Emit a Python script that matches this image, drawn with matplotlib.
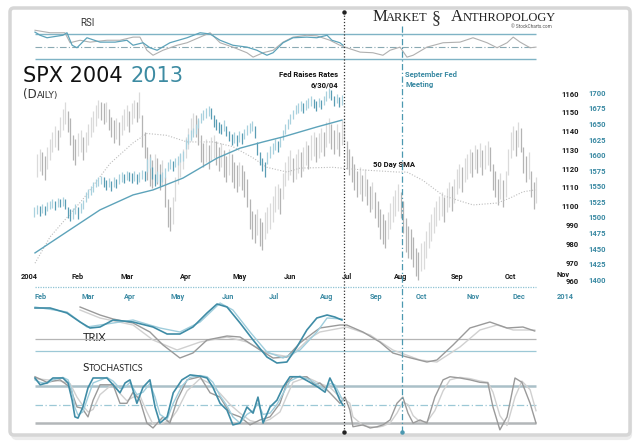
import numpy as np
import matplotlib
matplotlib.use("Agg")
import matplotlib.pyplot as plt
from matplotlib.patches import FancyBboxPatch

# ---- data ----
# SPX 2004 daily high / low, trading days 4..199
hi04 = [1128,1131,1129,1127,1132,1136,1140,1143,1141,1148,1152,1156,1151,1147,1138,1136,
        1139,1141,1137,1140,1144,1148,1151,1154,1157,1156,1155,1156,1152,1148,1146,1147,
        1145,1149,1152,1154,1151,1155,1157,1156,1161,1149,1140,1132,1128,1125,1128,1126,
        1123,1125,1116,1104,1100,1105,1116,1124,1128,1131,1137,1142,1147,1150,1149,1146,
        1138,1134,1136,1133,1137,1138,1135,1132,1134,1130,1127,1131,1128,1124,1122,1124,
        1122,1119,1115,1104,1098,1096,1099,1094,1092,1097,1100,1102,1106,1111,1112,1110,
        1118,1124,1127,1130,1126,1128,1131,1129,1132,1135,1133,1138,1140,1137,1139,1142,
        1140,1145,1147,1144,1141,1144,1140,1146,1147,1135,1131,1127,1123,1119,1121,1117,
        1120,1115,1111,1113,1108,1103,1099,1096,1093,1097,1102,1106,1109,1112,1108,1103,
        1094,1090,1088,1084,1078,1076,1081,1082,1087,1092,1096,1100,1103,1106,1108,1105,
        1110,1113,1111,1115,1120,1123,1121,1126,1128,1131,1129,1133,1131,1134,1130,1133,
        1135,1132,1123,1119,1115,1118,1114,1119,1131,1140,1143,1141,1145,1142,1132,1127,
        1129,1119,1113,1116]
lo04 = [1116,1119,1117,1114,1120,1125,1129,1132,1130,1137,1141,1144,1140,1133,1125,1122,
        1127,1129,1125,1129,1133,1137,1140,1143,1147,1146,1144,1145,1141,1137,1134,1136,
        1133,1138,1141,1143,1140,1144,1147,1145,1147,1132,1126,1114,1111,1110,1114,1112,
        1109,1111,1100,1089,1087,1091,1103,1112,1116,1120,1126,1131,1135,1139,1137,1133,
        1124,1121,1124,1120,1125,1126,1122,1119,1121,1116,1113,1117,1113,1110,1108,1111,
        1109,1105,1100,1088,1083,1081,1085,1079,1077,1083,1086,1088,1092,1097,1099,1096,
        1104,1111,1114,1117,1113,1115,1118,1116,1119,1122,1120,1125,1127,1124,1126,1129,
        1127,1132,1134,1131,1128,1131,1127,1133,1134,1120,1117,1113,1109,1105,1107,1103,
        1106,1101,1097,1099,1094,1089,1083,1080,1078,1083,1088,1092,1095,1098,1094,1086,
        1076,1073,1072,1068,1063,1061,1066,1067,1073,1078,1082,1086,1090,1093,1095,1092,
        1097,1100,1098,1102,1107,1110,1108,1113,1115,1118,1116,1120,1118,1121,1117,1120,
        1122,1119,1109,1105,1101,1104,1100,1105,1117,1126,1130,1127,1132,1129,1118,1113,
        1115,1105,1099,1102]

# SPX 2013 daily high / low, aligned days 3..123
hi13 = [1518,1521,1519,1523,1520,1525,1528,1530,1527,1532,1531,1534,1530,
        1518,1514,1516,1522,1517,1524,1529,1541,1547,1552,1557,1563,1566,1568,1565,1561,
        1564,1560,1565,1563,1570,1573,1571,1576,1574,1572,1575,1570,1573,1577,1575,1595,
        1598,1582,1571,1575,1570,1574,1580,1590,1594,1591,1597,1600,1604,1607,1626,1635,
        1641,1645,1650,1660,1668,1673,1677,1680,1676,1665,1659,1654,1651,1657,1648,1640,
        1634,1638,1633,1639,1636,1642,1649,1653,1656,1647,1622,1606,1597,1590,1606,1615,
        1621,1626,1623,1630,1641,1650,1659,1666,1674,1682,1685,1688,1684,1689,1692,1695,
        1691,1688,1693,1690,1696,1704,1709,1705,1696,1699,1694,1697]
lo13 = [1502,1506,1503,1508,1504,1511,1514,1516,1513,1518,1517,1520,1514,
        1500,1495,1499,1506,1498,1508,1514,1526,1532,1537,1542,1549,1552,1554,1550,1545,
        1549,1544,1550,1548,1555,1558,1556,1561,1559,1556,1560,1554,1558,1562,1559,1574,
        1580,1562,1552,1558,1552,1557,1564,1575,1579,1576,1582,1585,1589,1592,1610,1619,
        1625,1630,1634,1644,1652,1657,1661,1664,1659,1646,1641,1637,1634,1640,1631,1623,
        1617,1621,1616,1622,1619,1626,1633,1637,1640,1628,1601,1585,1575,1566,1586,1597,
        1603,1609,1606,1614,1625,1634,1643,1650,1658,1666,1669,1672,1668,1674,1677,1680,
        1676,1672,1678,1675,1681,1688,1693,1689,1680,1684,1678,1682]

# 50 day SMA 2004 (dotted) and 2013 average (blue)
sma04_x = [3.2, 9.1, 21.9, 32.5, 41.5, 46.9, 54.7, 62.6, 72.7, 80.5, 88.4, 93.8, 101.6, 106.7,
           119.6, 131.3, 144.6, 148.5, 154.8, 162.6, 170.4, 174.3, 183.7, 188.8, 193.9, 198.6]
sma04_y = [1070, 1084, 1104, 1123, 1134, 1139, 1138, 1134.5, 1134.5, 1132, 1126, 1121, 1118.5, 1120.6,
           1121, 1119.6, 1118.5, 1118.5, 1114, 1106, 1102.6, 1101, 1102, 1104.7, 1108, 1109]
sma13_x = [3.2, 15.7, 28.6, 41.5, 49.3, 61.0, 74.3, 83.3, 92.3, 100.0, 113.3, 123.1]
sma13_y = [1444, 1478, 1513, 1537, 1545, 1564, 1596, 1612, 1622, 1630, 1646, 1657]

# RSI
rsi13_x = [3.2, 5.2, 7.9, 14.1, 15.7, 17.7, 19.6, 23.5, 28.6, 34.5, 39.1, 41.5, 45.4, 48.1, 50.9, 55.9,
           62.6, 67.7, 71.6, 75.5, 80.5, 86, 89.9, 93.8, 96.2, 100.1, 104, 109.4, 113.3, 117.3, 119.2,
           122.3, 123.5]
rsi13_y = [73, 68, 64, 68, 72, 52, 48, 64, 57, 57, 60, 52, 56, 48, 44, 56,
           64, 72, 70, 60, 52, 49, 44, 36, 40, 56, 64, 65, 64, 68, 60, 56, 52]
rsi04_x = [3.2, 9.1, 14.9, 16.9, 20.8, 24.7, 31.3, 36.4, 41.5, 44.2, 46.9, 49.3, 53.2, 58.7, 62.6, 67.7,
           71.6, 75.5, 80.5, 86, 88.4, 92.3, 96.2, 100.1, 104, 109.4, 113.3, 118.4, 122.3, 125, 130.2,
           135.2, 139.1, 141.9, 145.8, 148.5, 150.9, 156.3, 162.6, 169.2, 174.3, 179.8, 183.7, 187.6,
           190, 192.7, 196.6, 198.9]
rsi04_y = [76, 72, 72, 56, 60, 57, 60, 60, 65, 65, 44, 36, 44, 52, 56, 65,
           72, 56, 49, 40, 33, 40, 44, 57, 65, 68, 67, 60, 52, 48, 41,
           40, 36, 44, 49, 33, 36, 49, 56, 57, 64, 56, 48, 56,
           65, 57, 48, 49]

# TRIX
trix13_x = [3.2, 9.1, 15.7, 20.8, 24.7, 28.6, 33.7, 41.5, 49.3, 54.8, 59.8, 64.9, 70.4, 74.3, 78.2,
            83.3, 88.4, 93.8, 97.7, 101.6, 105.5, 109.4, 113.3, 117.3, 120.3, 123.1]
trix13_y = [31, 31, 26, 17, 11, 12, 19, 17, 12, 5, 5, 12, 26, 35, 32,
            16, -1, -18, -24, -23, -8, 9, 21, 24, 22, 19]
trix13s_x = [3.2, 15.7, 23.5, 28.6, 41.5, 52, 59.8, 67.7, 75.5, 80.5, 87.2, 93.8, 100.1, 106.7,
             113.3, 117.3, 123.1]
trix13s_y = [32, 27, 12, 14, 19, 11, 7, 17, 36, 29, 7, -13, -19, -11, 7, 21, 20]
trix04_x = [20.8, 28.6, 33.7, 41.5, 48.1, 53.2, 59.8, 64.9, 70.4, 78.2, 83.3, 91.1, 96.2, 101.6,
            106.7, 111.8, 114.5, 122.3, 125, 131.3, 137.9, 143, 148.5, 156.3, 160.2, 166.5, 173.1,
            180.9, 187.6, 193.8, 198.4]
trix04_y = [32, 24, 20, 16, 7, -6, -19, -14, -1, 3, 2, -11, -19, -18,
            -4, 6, 11, 14, 14, 7, -3, -14, -18, -23, -21, -6, 11,
            17, 11, 12, 8]
trix04s_x = [20.8, 28.6, 41.5, 49.3, 58.7, 67.7, 78.2, 86, 93.8, 102.8, 110.6, 114.5, 125, 134.1,
             143, 153.6, 160.2, 169.2, 177, 183.7, 190, 198.4]
trix04s_y = [29, 21, 14, -1, -11, -3, 2, -3, -14, -18, 1, 7, 12, 4,
             -11, -21, -23, -8, 9, 14, 9, 9]

# Stochastics
sto13_x = [3.2, 5.2, 7.9, 10.2, 14.1, 16.1, 17.7, 18.8, 20, 21.9, 23.9, 25.9, 31.3, 33.7, 36.4, 38.4,
           40.3, 43, 45.4, 48.1, 50.1, 52, 54.8, 57.2, 60.6, 63.8, 67.7, 70.4, 72.7, 75.5, 78.2,
           80.5, 83.3, 86, 88.4, 90.3, 92.3, 95, 97.7, 100.1, 102.8, 106.7, 110.6, 113.8, 116.5,
           118.4, 120.3, 122.3, 123.5]
sto13_k = [93, 82, 85, 93, 93, 85, 57, 30, 28, 46, 77, 93, 93, 82, 69, 85,
           90, 52, 78, 90, 46, 20, 30, 69, 90, 98, 96, 93, 78, 52, 41,
           17, 20, 46, 36, 62, 20, 46, 57, 78, 95, 95, 86, 78, 70,
           93, 77, 57, 49]
sto13_d = [90, 86, 84, 90, 94, 90, 72, 45, 33, 38, 62, 85, 94, 88, 76, 78,
           86, 66, 70, 84, 62, 34, 26, 52, 80, 94, 97, 95, 86, 64, 48,
           30, 20, 34, 40, 52, 34, 36, 50, 68, 88, 96, 90, 82, 74,
           84, 82, 66, 56]
sto04_x = [3.2, 7.9, 13, 16.9, 19.6, 21.6, 23.9, 25.9, 28.6, 33.7, 36.4, 39.1, 41.5, 44.2, 46.9,
           49.3, 53.2, 55.9, 58.7, 62.6, 67.7, 71.6, 75.5, 79.4, 83.3, 87.2, 91.1, 95, 98.9,
           101.6, 104, 109.4, 112.6, 114.5, 118.4, 122.3, 124.3, 126.2, 127.4, 131.3, 134.1,
           136.8, 139.1, 141.9, 144.6, 146.9, 148.9, 150.9, 153.6, 156.3, 159.4, 162.6, 165.3,
           169.2, 173.1, 177, 180.1, 182.1, 184.8, 187.6, 190.7, 193.4, 196.6, 198.9]
sto04_k = [95, 86, 90, 78, 46, 44, 30, 57, 82, 82, 52, 52, 70, 57, 20,
           12, 30, 20, 57, 90, 95, 69, 62, 36, 30, 17, 25, 30, 52,
           85, 95, 95, 82, 85, 69, 52, 62, 41, 14, 17, 12,
           14, 17, 25, 52, 62, 36, 20, 25, 20, 62, 90, 95,
           93, 90, 86, 85, 46, 9, 30, 93, 86, 52, 20]
sto04_d = [92, 90, 88, 84, 62, 50, 38, 42, 66, 84, 68, 56, 62, 64, 38,
           18, 20, 24, 40, 72, 92, 84, 68, 50, 36, 24, 20, 26, 38,
           64, 86, 94, 88, 84, 78, 62, 58, 52, 30, 16, 14,
           13, 15, 20, 36, 54, 50, 32, 22, 22, 40, 72, 90,
           94, 92, 88, 86, 70, 32, 16, 62, 88, 74, 40]

# axis labels
months04 = ["2004", "Feb", "Mar", "Apr", "May", "Jun", "Jul", "Aug", "Sep", "Oct"]
months04_day = [0.9, 20, 39, 62, 83, 103, 125, 146, 168, 189]
months13 = ["Feb", "Mar", "Apr", "May", "Jun", "Jul", "Aug", "Sep", "Oct", "Nov", "Dec", "2014"]
months13_day = [5.5, 23.9, 40.3, 59, 78.6, 96.6, 117.3, 136.4, 154, 174.3, 192.3, 210.2]
levels04 = [1160, 1150, 1140, 1130, 1120, 1110, 1100, 1090, 1080, 1070, 1060]
labels04 = ["1160", "1150", "1140", "1130", "1120", "1110", "1100", "990", "980", "970", "960"]
levels13 = [1700, 1675, 1650, 1625, 1600, 1575, 1550, 1525, 1500, 1475, 1450, 1425, 1400]
fed_day = 124        # 6/30/04
sept_fed_day = 146.6

# ---- layout ----
W, H = 640, 443
X0, DX = 26.8, 2.56
XL = (-X0 / DX, (W - X0) / DX)
X_END = 198.9
TEAL = "#3b8aa3"

plt.rcParams["font.family"] = ["Roboto", "DejaVu Sans"]
fig = plt.figure(figsize=(W / 100, H / 100), dpi=100)
fig.patch.set_facecolor("white")


def panel(top, bottom, ylim):
    ax = fig.add_axes([0, 1 - bottom / H, 1, (bottom - top) / H])
    ax.set_xlim(XL)
    ax.set_ylim(ylim)
    ax.axis("off")
    ax.patch.set_alpha(0)
    return ax


deco = fig.add_axes([0, 0, 1, 1])
deco.set_xlim(0, W)
deco.set_ylim(H, 0)
deco.axis("off")
deco.add_patch(FancyBboxPatch((13, 11), 617, 427, boxstyle="round,pad=0,rounding_size=4",
                              fc="none", ec="#ececec", lw=3, zorder=0))
deco.add_patch(FancyBboxPatch((10, 8), 620, 427, boxstyle="round,pad=0,rounding_size=4",
                              fc="white", ec="#d6d6d6", lw=2.5))

# ---- main price panel ----
ax04 = panel(85, 290, (1055.74, 1164.79))
ax13 = panel(85, 290, (1384.5, 1713.3))

x04 = np.arange(4, 4 + len(hi04))
h04, l04 = np.array(hi04), np.array(lo04)
m04 = (h04 + l04) / 2
up04 = np.r_[True, m04[1:] >= m04[:-1]]
ax04.vlines(x04[up04], l04[up04], h04[up04], color="#dadada", lw=0.9)
ax04.vlines(x04[~up04], l04[~up04], h04[~up04], color="#b4b4b4", lw=0.9)
ax04.plot(sma04_x, sma04_y, color="#bdbdbd", lw=0.8, ls=(0, (1, 1.5)))

x13 = np.arange(3, 3 + len(hi13))
h13, l13 = np.array(hi13), np.array(lo13)
m13 = (h13 + l13) / 2
up13 = np.r_[True, m13[1:] >= m13[:-1]]
ax13.vlines(x13[up13], l13[up13], h13[up13], color="#a9d1de", lw=0.9)
ax13.vlines(x13[~up13], l13[~up13], h13[~up13], color="#5a9db4", lw=0.9)
ax13.plot(sma13_x, sma13_y, color="#5da3ba", lw=1)

for v, s in zip(levels04, labels04):
    ax04.text(215.7, v, s, ha="right", va="center", fontsize=5.5, fontweight="bold", color="#1a1a1a")
for v in levels13:
    ax13.text(226.3, v, str(v), ha="right", va="center", fontsize=5.5, fontweight="bold", color=TEAL)
for d, s in zip(months04_day, months04):
    ax04.text(d, 1062.7, s, ha="center", va="center", fontsize=5.3, fontweight="bold", color="#1a1a1a")
ax04.text(209.3, 1063.5, "Nov", ha="center", va="center", fontsize=5.3, fontweight="bold", color="#1a1a1a")

# ---- RSI panel ----
axr = panel(18, 66, (18.8, 95.6))
axr.hlines([70, 30], 3.2, X_END, color="#7fb3c5", lw=1)
axr.hlines(50, 3.2, X_END, color="#8aa9b3", lw=0.8, ls=(0, (6, 2, 1, 2)))
axr.plot(rsi04_x, rsi04_y, color="#b0b0b0", lw=0.8)
axr.plot(rsi13_x, rsi13_y, color="#5da3ba", lw=0.9)

# ---- TRIX panel ----
axt = panel(292, 372, (-33, 47))
axt.hlines(0, 3.2, X_END, color="#b5b5b5", lw=0.9)
axt.hlines(-12, 3.2, X_END, color="#9cc8d6", lw=0.9)
axt.plot(trix04s_x, trix04s_y, color="#d0d0d0", lw=1)
axt.plot(trix04_x, trix04_y, color="#9a9a9a", lw=1)
axt.plot(trix13s_x, trix13s_y, color="#9fcddc", lw=1)
axt.plot(trix13_x, trix13_y, color="#3f8ca6", lw=1.2)
for d, s in zip(months13_day, months13):
    axt.text(d, 42, s, ha="center", va="center", fontsize=5.3, fontweight="bold", color=TEAL)

# ---- stochastics panel ----
axs = panel(372, 436, (-1, 102.7))
axs.hlines(80, 3.2, X_END, color="#aac0c8", lw=1.8)
axs.hlines(20, 3.2, X_END, color="#b3b7b9", lw=1.8)
axs.hlines(50, 3.2, X_END, color="#9cc8d6", lw=0.9, ls=(0, (6, 2, 1, 2)))
axs.plot(sto04_x, sto04_d, color="#d0d0d0", lw=1)
axs.plot(sto04_x, sto04_k, color="#9a9a9a", lw=1)
axs.plot(sto13_x, sto13_d, color="#9fcddc", lw=1)
axs.plot(sto13_x, sto13_k, color="#3f8ca6", lw=1.2)

# ---- event lines ----
axv = panel(0, H, (H, 0))
axv.plot([fed_day, fed_day], [12, 432], color="#333333", lw=0.9, ls=(0, (1, 1.5)))
axv.plot([fed_day, fed_day], [12, 432], "o", color="#222222", ms=2.2)
axv.plot([sept_fed_day, sept_fed_day], [26, 432], color="#4b98b0", lw=0.9, ls=(0, (5, 2, 1, 2)))
axv.plot([sept_fed_day], [432], "o", color="#4b98b0", ms=2.2)
axv.hlines(287, 3.2, X_END, color="#8fc3d4", lw=0.9, ls=(0, (1, 1)))

# ---- texts ----
deco.text(80, 26, "RSI", fontsize=7, color="#333333")
deco.text(23, 82, "SPX 2004", fontsize=15, family=["DejaVu Sans"], color="#111111")
deco.text(131, 82, "2013", fontsize=15, family=["DejaVu Sans"], color="#3d8ba2")
deco.text(23, 98, "(D", fontsize=8.5, family=["DejaVu Sans"], color="#333333")
deco.text(36.5, 98, "AILY)", fontsize=6.5, family=["DejaVu Sans"], color="#333333")
deco.text(373, 21, "M", fontsize=12, family=["Liberation Serif"], color="#222222")
deco.text(386, 21, "ARKET", fontsize=9, family=["Liberation Serif"], color="#222222")
deco.text(432, 23, "\u00a7", fontsize=13, family=["Liberation Serif"], color="#333333")
deco.text(451, 21, "A", fontsize=12, family=["Liberation Serif"], color="#222222")
deco.text(463, 21, "NTHROPOLOGY", fontsize=9, family=["Liberation Serif"], color="#222222")
deco.text(552, 28, "\u00a9 StockCharts.com", fontsize=3.3, ha="right", color="#555555")
deco.text(338, 77, "Fed Raises Rates", fontsize=5.5, fontweight="bold", ha="right", color="#111111")
deco.text(338, 87, "6/30/04", fontsize=5.5, fontweight="bold", ha="right", color="#111111")
deco.text(405, 77, "September Fed", fontsize=5.5, fontweight="bold", color=TEAL)
deco.text(405, 87, "Meeting", fontsize=5.5, fontweight="bold", color=TEAL)
deco.text(373, 167, "50 Day SMA", fontsize=5.5, fontweight="bold", color="#111111")
deco.text(83, 341, "TRIX", fontsize=8, family=["Lato", "DejaVu Sans"], color="#222222")
deco.text(83, 371, "S", fontsize=8.5, family=["Lato", "DejaVu Sans"], color="#222222")
deco.text(89, 371, "TOCHASTICS", fontsize=6.5, family=["Lato", "DejaVu Sans"], color="#222222")

fig.savefig("out.png", dpi=100)
